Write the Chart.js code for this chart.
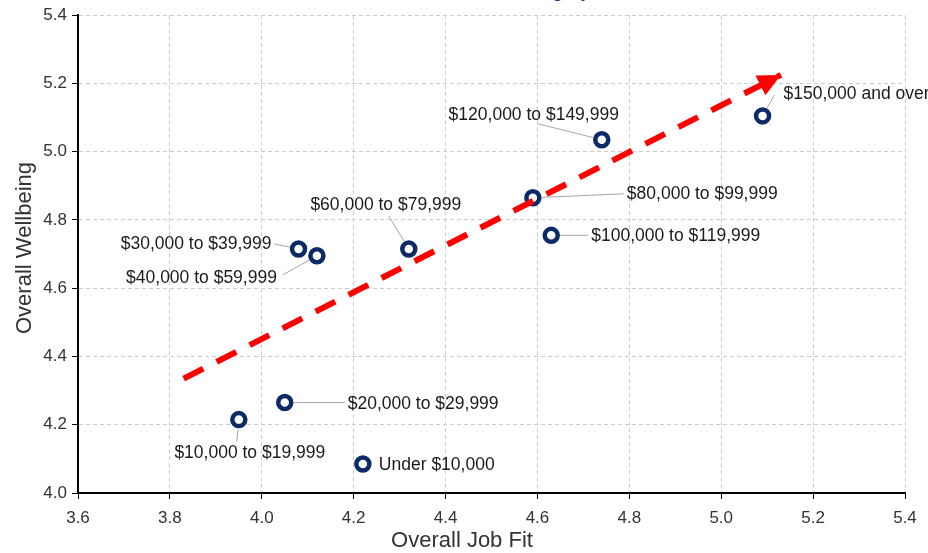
<!DOCTYPE html>
<html>
<head>
<meta charset="utf-8">
<script src="https://cdn.jsdelivr.net/npm/chart.js@4"></script>
<style>
  html, body { margin: 0; padding: 0; background: #fff; }
  #wrap { width: 928px; height: 553px; }
</style>
</head>
<body>
<div id="wrap"><canvas id="scatterChart" width="928" height="553"></canvas></div>
<script>
// income categories and their scores
const categories = [
    'Under $10,000', '$10,000 to $19,999', '$20,000 to $29,999', '$30,000 to $39,999',
    '$40,000 to $59,999', '$60,000 to $79,999', '$80,000 to $99,999', '$100,000 to $119,999',
    '$120,000 to $149,999', '$150,000 and over'
]
const jobFit = [4.22, 3.95, 4.05, 4.08, 4.12, 4.32, 4.59, 4.63, 4.74, 5.09]
const wellbeing = [4.085, 4.215, 4.265, 4.715, 4.695, 4.715, 4.865, 4.755, 5.035, 5.105]

// trend arrow, start and tip
const trendX = [3.83, 5.13]
const trendY = [4.335, 5.225]

const xTicks = [3.6, 3.8, 4.0, 4.2, 4.4, 4.6, 4.8, 5.0, 5.2, 5.4]
const yTicks = [4.0, 4.2, 4.4, 4.6, 4.8, 5.0, 5.2, 5.4]

const xTitle = 'Overall Job Fit'
const yTitle = 'Overall Wellbeing'
const chartTitle = 'Income Category'

const FONT = '"Liberation Sans", Arial, sans-serif'

// label placement relative to each point: text dx, dy, align, leader end dx, dy
const placement = [
    [16, 1, 'left', null, null],
    [11, 34, 'center', -2, 22],
    [63, 2, 'left', 60, 0],
    [-27, -5, 'right', -24, -5],
    [-40, 22, 'right', -34, 19],
    [-23, -44, 'center', -20, -33],
    [94, -4, 'left', 91, -4],
    [40, 1, 'left', 37, 0],
    [-68, -25, 'center', -64, -16],
    [21, -22, 'left', 12, -21]
]

const labelPlugin = {
    id: 'pointLabels',
    afterDatasetsDraw(chart) {
        const ctx = chart.ctx
        const meta = chart.getDatasetMeta(1)
        ctx.save()
        // arrow head at the end of the trend line
        const tm = chart.getDatasetMeta(0).data
        const p0 = tm[0], p1 = tm[tm.length - 1]
        const ang = Math.atan2(p1.y - p0.y, p1.x - p0.x)
        ctx.translate(p1.x, p1.y)
        ctx.rotate(ang)
        ctx.fillStyle = '#ff0000'
        ctx.beginPath()
        ctx.moveTo(0, 0)
        ctx.lineTo(-23, -11)
        ctx.lineTo(-23, 11)
        ctx.closePath()
        ctx.fill()
        ctx.setTransform(1, 0, 0, 1, 0, 0)

        ctx.font = '17.5px ' + FONT
        ctx.textBaseline = 'middle'
        meta.data.forEach((pt, i) => {
            const [dx, dy, align, lx, ly] = placement[i]
            if (lx !== null) {
                const len = Math.hypot(lx, ly)
                ctx.strokeStyle = '#a6a6a6'
                ctx.lineWidth = 1
                ctx.beginPath()
                ctx.moveTo(pt.x + lx / len * 9, pt.y + ly / len * 9)
                ctx.lineTo(pt.x + lx, pt.y + ly)
                ctx.stroke()
            }
            ctx.fillStyle = '#1a1a1a'
            ctx.textAlign = align
            ctx.fillText(categories[i], pt.x + dx, pt.y + dy)
        })

        // axis titles
        ctx.fillStyle = '#333333'
        ctx.font = '22px ' + FONT
        ctx.textAlign = 'center'
        ctx.fillText(xTitle, 462, 541)
        ctx.translate(25, 248)
        ctx.rotate(-Math.PI / 2)
        ctx.fillText(yTitle, 0, 0)
        ctx.setTransform(1, 0, 0, 1, 0, 0)

        // title, mostly cut off above the picture
        ctx.fillStyle = '#0c2a66'
        ctx.font = '20px ' + FONT
        ctx.textAlign = 'right'
        ctx.textBaseline = 'alphabetic'
        ctx.fillText(chartTitle, 591, -3)
        ctx.restore()
    }
}

const ctx = document.getElementById('scatterChart').getContext('2d')

new Chart(ctx, {
    type: 'scatter',
    data: {
        datasets: [
            {
                type: 'line',
                data: trendX.map((x, i) => ({ x, y: trendY[i] })),
                borderColor: '#ff0000',
                borderWidth: 6,
                borderDash: [22, 15],
                pointRadius: 0,
                fill: false,
                order: 0
            },
            {
                data: jobFit.map((x, i) => ({ x, y: wellbeing[i] })),
                pointRadius: 6.5,
                pointHoverRadius: 6.5,
                pointBorderWidth: 4.5,
                pointBackgroundColor: '#ffffff',
                pointBorderColor: '#0c2a66',
                order: 1
            }
        ]
    },
    options: {
        responsive: false,
        animation: false,
        devicePixelRatio: 1,
        layout: { padding: { top: 15, right: 23, left: 0, bottom: 0 } },
        plugins: {
            legend: { display: false },
            tooltip: { enabled: false }
        },
        scales: {
            x: {
                type: 'linear',
                min: 3.6,
                max: 5.4,
                afterFit: s => { s.height = 60 },
                afterBuildTicks: s => { s.ticks = xTicks.map(v => ({ value: v })) },
                grid: { color: '#cccccc', tickColor: '#000000', tickLength: 6, tickWidth: 1 },
                border: { color: '#000000', width: 2, dash: [4, 3] },
                ticks: {
                    padding: 9,
                    color: '#333333',
                    font: { size: 17, family: FONT },
                    callback: v => v.toFixed(1)
                }
            },
            y: {
                type: 'linear',
                min: 4.0,
                max: 5.4,
                afterFit: s => { s.width = 78 },
                afterBuildTicks: s => { s.ticks = yTicks.map(v => ({ value: v })) },
                grid: { color: '#cccccc', tickColor: '#000000', tickLength: 6, tickWidth: 1 },
                border: { color: '#000000', width: 2, dash: [4, 3] },
                ticks: {
                    padding: 5,
                    color: '#333333',
                    font: { size: 17, family: FONT },
                    callback: v => v.toFixed(1)
                }
            }
        }
    },
    plugins: [labelPlugin]
})
</script>
</body>
</html>
